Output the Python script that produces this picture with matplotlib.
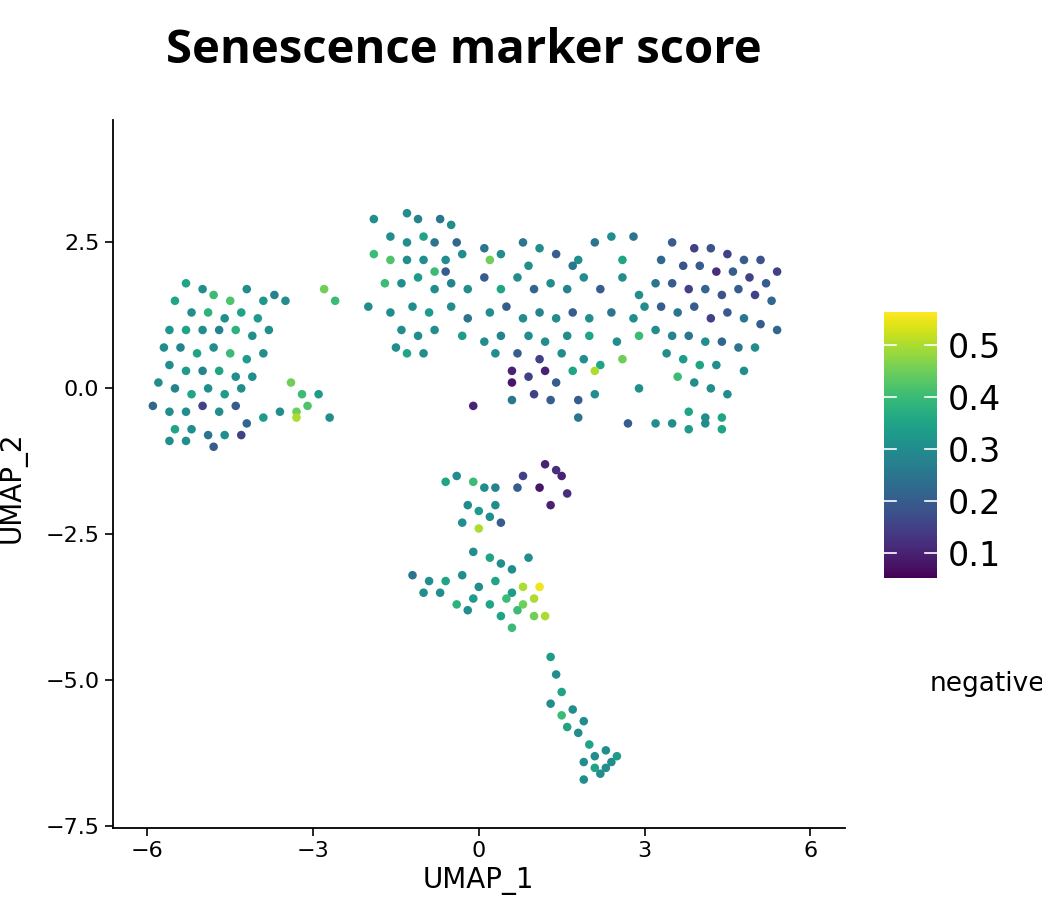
import matplotlib
matplotlib.use("Agg")
import matplotlib.pyplot as plt
import numpy as np

left_cluster = [(-5.3,1.8,.35),(-5.0,1.7,.3),(-4.8,1.6,.4),(-4.5,1.5,.42),(-4.2,1.7,.3),(-3.9,1.5,.32),(-3.7,1.6,.28),(-5.5,1.5,.35),(-5.2,1.3,.3),(-4.9,1.3,.38),(-4.6,1.2,.3),(-4.3,1.3,.35),(-4.0,1.2,.33),(-3.8,1.0,.3),(-5.6,1.0,.32),(-5.3,1.0,.35),(-5.0,1.0,.3),(-4.7,1.0,.28),(-4.4,1.0,.38),(-4.1,0.9,.3),(-5.7,0.7,.3),(-5.4,0.7,.28),(-5.1,0.6,.35),(-4.8,0.7,.3),(-4.5,0.6,.4),(-4.2,0.5,.33),(-3.9,0.6,.3),(-5.6,0.4,.3),(-5.3,0.3,.33),(-5.0,0.3,.28),(-4.7,0.3,.35),(-4.4,0.2,.3),(-4.1,0.2,.3),(-5.8,0.1,.3),(-5.5,0.0,.28),(-5.2,-0.1,.35),(-4.9,0.0,.3),(-4.6,-0.1,.33),(-4.3,0.0,.3),(-5.9,-0.3,.22),(-5.6,-0.4,.3),(-5.3,-0.4,.3),(-5.0,-0.3,.15),(-4.7,-0.4,.3),(-4.4,-0.3,.2),(-4.2,-0.6,.22),(-5.5,-0.7,.35),(-5.2,-0.7,.3),(-4.9,-0.8,.25),(-4.6,-0.8,.3),(-4.3,-0.8,.15),(-5.3,-0.9,.3),(-4.8,-1.0,.2),(-5.6,-0.9,.3),(-3.9,-0.5,.33),(-3.6,-0.4,.3)]
small_cluster = [(-3.4,0.1,.45),(-3.2,-0.1,.4),(-3.1,-0.3,.42),(-3.3,-0.4,.45),(-3.3,-0.5,.5),(-2.9,-0.1,.33),(-2.7,-0.5,.3),(-3.5,1.5,.3),(-2.8,1.7,.45),(-2.6,1.5,.4)]
top_cluster = [(-1.9,2.9,.3),(-1.3,3.0,.3),(-1.1,2.9,.28),(-0.7,2.9,.25),(-0.5,2.8,.3),(-1.6,2.6,.3),(-1.3,2.5,.3),(-1.0,2.6,.35),(-0.8,2.5,.25),(-0.4,2.5,.22),(-1.9,2.3,.4),(-1.6,2.2,.42),(-1.3,2.2,.3),(-1.0,2.2,.3),(-0.6,2.2,.3),(-0.3,2.3,.3),(0.1,2.4,.25),(0.4,2.3,.3),(0.8,2.5,.25),(1.1,2.4,.3),(1.4,2.3,.2),(1.8,2.2,.3),(2.1,2.5,.25),(2.4,2.6,.3),(2.8,2.6,.25),(-1.7,1.8,.4),(-1.4,1.8,.3),(-1.1,1.9,.33),(-0.8,1.7,.3),(-0.5,1.8,.28),(-0.2,1.7,.3),(0.1,1.9,.2),(0.4,1.7,.35),(0.7,1.9,.3),(1.0,1.7,.22),(1.3,1.8,.3),(1.6,1.7,.28),(1.9,1.9,.3),(2.2,1.7,.2),(2.6,1.9,.3),(2.9,1.6,.3),(-2.0,1.4,.3),(-1.6,1.3,.3),(-1.2,1.4,.3),(-0.9,1.3,.33),(-0.5,1.4,.3),(-0.2,1.2,.25),(0.2,1.3,.3),(0.5,1.4,.2),(0.8,1.2,.3),(1.1,1.3,.28),(1.4,1.2,.3),(1.7,1.3,.2),(2.0,1.2,.3),(2.4,1.3,.25),(2.8,1.2,.3),(-1.4,1.0,.3),(-1.1,0.9,.3),(-0.8,1.0,.3),(-0.3,0.9,.33),(0.1,0.8,.3),(0.4,0.9,.28),(0.9,0.9,.3),(1.2,0.8,.3),(1.6,0.9,.3),(2.0,0.9,.35),(2.5,0.8,.3),(2.9,0.9,.4),(-1.5,0.7,.3),(-1.3,0.6,.35),(-1.0,0.6,.3),(0.3,0.6,.3),(0.7,0.6,.2),(1.1,0.5,.15),(1.5,0.6,.3),(1.9,0.5,.3),(2.2,0.4,.35),(2.6,0.5,.45),(0.6,0.3,.1),(0.9,0.2,.15),(1.2,0.3,.1),(1.4,0.1,.2),(1.7,0.3,.35),(2.1,0.3,.5),(0.6,0.1,.08),(1.0,-0.1,.15),(1.3,-0.2,.2),(-0.1,-0.3,.1),(0.6,-0.2,.25),(1.8,-0.2,.2),(1.8,-0.5,.25),(2.1,-0.1,.3),(2.7,-0.6,.2),(2.9,0.0,.3),(-0.6,2.0,.2),(0.9,2.1,.3),(1.7,2.1,.25),(2.6,2.2,.35),(-0.8,2.0,.4),(0.2,2.2,.45)]
right_cluster = [(3.5,2.5,.2),(3.9,2.4,.15),(4.2,2.4,.18),(4.5,2.3,.15),(4.8,2.2,.2),(5.1,2.2,.18),(5.4,2.0,.15),(3.3,2.2,.22),(3.7,2.1,.18),(4.0,2.1,.2),(4.3,2.0,.12),(4.6,2.0,.2),(4.9,1.9,.15),(5.2,1.8,.2),(3.2,1.8,.25),(3.5,1.8,.2),(3.8,1.7,.15),(4.1,1.7,.22),(4.4,1.6,.18),(4.7,1.7,.2),(5.0,1.6,.15),(5.3,1.5,.22),(3.0,1.4,.3),(3.3,1.4,.2),(3.6,1.3,.25),(3.9,1.4,.2),(4.2,1.2,.15),(4.5,1.3,.2),(4.8,1.2,.25),(5.1,1.1,.2),(5.4,1.0,.22),(3.2,1.0,.3),(3.5,0.9,.28),(3.8,0.9,.25),(4.1,0.8,.3),(4.4,0.8,.22),(4.7,0.7,.25),(5.0,0.7,.3),(3.4,0.6,.3),(3.7,0.5,.33),(4.0,0.4,.35),(4.3,0.4,.3),(4.8,0.3,.3),(3.6,0.2,.4),(3.9,0.1,.3),(4.2,0.0,.3),(4.5,-0.1,.3),(3.8,-0.4,.35),(4.1,-0.5,.3),(4.4,-0.5,.35),(3.5,-0.6,.3),(3.8,-0.7,.33),(4.1,-0.6,.3),(4.4,-0.7,.35),(3.2,-0.6,.3)]
stem_cluster = [(-0.4,-1.5,.3),(-0.1,-1.6,.4),(-0.6,-1.6,.35),(0.1,-1.7,.3),(0.3,-1.7,.28),(-0.2,-2.0,.3),(0.0,-2.1,.33),(0.3,-2.0,.3),(-0.3,-2.3,.3),(0.0,-2.4,.5),(0.2,-2.2,.3),(0.4,-2.3,.2),(0.7,-1.7,.2),(0.8,-1.5,.15),(1.2,-1.3,.1),(1.4,-1.4,.12),(1.1,-1.7,.08),(1.5,-1.5,.1),(1.3,-2.0,.1),(1.6,-1.8,.12),(-0.1,-2.8,.3),(0.2,-2.9,.35),(0.4,-3.0,.3),(0.6,-3.1,.3),(0.9,-2.9,.3),(-1.2,-3.2,.25),(-0.9,-3.3,.3),(-0.6,-3.3,.35),(-0.3,-3.2,.3),(0.0,-3.4,.3),(0.3,-3.3,.35),(0.6,-3.5,.33),(0.8,-3.4,.5),(1.1,-3.4,.55),(-0.7,-3.5,.3),(-0.4,-3.7,.38),(-0.1,-3.6,.33),(0.2,-3.7,.35),(0.5,-3.6,.4),(0.8,-3.7,.45),(1.0,-3.6,.5),(-1.0,-3.5,.3),(-0.2,-3.8,.3),(0.4,-3.9,.35),(0.7,-3.8,.4),(1.0,-3.9,.45),(1.2,-3.9,.5),(0.6,-4.1,.4)]
tail_cluster = [(1.3,-4.6,.33),(1.4,-4.9,.3),(1.5,-5.2,.35),(1.3,-5.4,.3),(1.5,-5.6,.4),(1.7,-5.5,.3),(1.6,-5.8,.35),(1.9,-5.7,.3),(1.8,-5.9,.3),(2.0,-6.1,.35),(2.1,-6.3,.3),(2.3,-6.2,.3),(2.5,-6.3,.33),(1.9,-6.4,.3),(2.1,-6.5,.35),(2.3,-6.5,.3),(1.9,-6.7,.3),(2.2,-6.6,.3),(2.4,-6.4,.3)]

xticks = [-6, -3, 0, 3, 6]
yticks = [-7.5, -5.0, -2.5, 0.0, 2.5]
cbar_ticks = [0.1, 0.2, 0.3, 0.4, 0.5]

pts = np.array(left_cluster + small_cluster + top_cluster + right_cluster + stem_cluster + tail_cluster)

fig = plt.figure(figsize=(10.42, 9.19), dpi=100)
ax = fig.add_axes([0.108, 0.099, 0.703, 0.770])
sc = ax.scatter(pts[:, 0], pts[:, 1], c=pts[:, 2], cmap="viridis", vmin=0.052, vmax=0.563, s=38, linewidths=0)
ax.set_xlim(-6.63, 6.63)
ax.set_ylim(-7.53, 4.59)
ax.set_xticks(xticks)
ax.set_xticklabels([str(t).replace("-", "\u2212") for t in xticks])
ax.set_yticks(yticks)
ax.set_yticklabels([("%.1f" % t).replace("-", "\u2212") for t in yticks])
for s in ["top", "right"]:
    ax.spines[s].set_visible(False)
ax.spines["left"].set_linewidth(1.3)
ax.spines["bottom"].set_linewidth(1.3)
ax.tick_params(labelsize=16, width=1.2, length=6, colors="black")
ax.set_xlabel("UMAP_1", fontsize=20)
fig.text(0.012, 0.47, "UMAP_2", rotation=90, fontsize=20, va="center", ha="center")

fig.text(0.445, 0.945, "Senescence marker score", fontsize=34, fontweight="bold", ha="center", va="center", family="Open Sans")

cax = fig.add_axes([884/1042, 1 - 578/919, 53/1042, 266/919])
cb = fig.colorbar(sc, cax=cax, ticks=cbar_ticks)
cb.outline.set_visible(False)
cb.ax.tick_params(labelsize=24, length=0, pad=8)
for t in cbar_ticks:
    cax.plot([0, 0.22], [t, t], color="white", lw=1.2, transform=cax.get_yaxis_transform())
    cax.plot([0.78, 1], [t, t], color="white", lw=1.2, transform=cax.get_yaxis_transform())
fig.text(0.892, 0.256, "negative", fontsize=19, ha="left", va="center")

fig.savefig("out.png", dpi=100)
